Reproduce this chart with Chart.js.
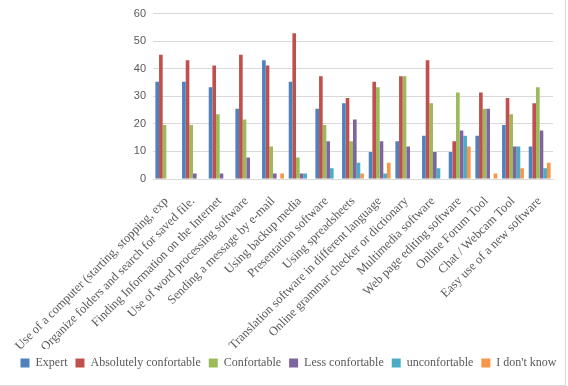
<!DOCTYPE html>
<html>
<head>
<meta charset="utf-8">
<script src="https://cdn.jsdelivr.net/npm/chart.js@4/dist/chart.umd.min.js"></script>
<style>
  body { margin: 0; background: #fff; }
  #box { position: relative; width: 565px; height: 385px; border-right: 1px solid #d9d9d9; border-bottom: 1px solid #d9d9d9; }
</style>
</head>
<body>
<div id="box"><canvas id="skills"></canvas></div>
<script>
// categories (x axis)
const skills = [
  "Use of a computer (starting, stopping, exp",
  "Organize folders and search for saved file.",
  "Finding Information on the Internet",
  "Use of word processing software",
  "Sending a message by e-mail",
  "Using backup media",
  "Presentation software",
  "Using spreadsheets",
  "Translation software in different language",
  "Online grammar checker or dictionary",
  "Multimedia software",
  "Web page editing software",
  "Online Forum Tool",
  "Chat / Webcam Tool",
  "Easy use of a new software"
];

// values in percent
const expert       = [35.3, 35.3, 33.3, 25.5, 43.1, 35.3, 25.5, 27.5, 9.8, 13.7, 15.7, 9.8, 15.7, 19.6, 11.8];
const absolutely   = [45.1, 43.1, 41.2, 45.1, 41.2, 52.9, 37.3, 29.4, 35.3, 37.3, 43.1, 13.7, 31.4, 29.4, 27.5];
const confortable  = [19.6, 19.6, 23.5, 21.6, 11.8, 7.8, 19.6, 13.7, 33.3, 37.3, 27.5, 31.4, 25.5, 23.5, 33.3];
const less         = [0, 2.0, 2.0, 7.8, 2.0, 2.0, 13.7, 21.6, 13.7, 11.8, 9.8, 17.6, 25.5, 11.8, 17.6];
const unconf       = [0, 0, 0, 0, 0, 2.0, 3.9, 5.9, 2.0, 0, 3.9, 15.7, 0, 11.8, 3.9];
const dontKnow     = [0, 0, 0, 0, 2.0, 0, 0, 2.0, 5.9, 0, 0, 11.8, 2.0, 3.9, 5.9];

const yTicks = [0, 10, 20, 30, 40, 50, 60];

function series(label, values, color) {
  return {
    label: label,
    data: values,
    backgroundColor: color,
    borderWidth: 0,
    barPercentage: 1,
    categoryPercentage: 0.82
  };
}

const data = {
  labels: skills,
  datasets: [
    series("Expert", expert, "#4f81bd"),
    series("Absolutely confortable", absolutely, "#c0504d"),
    series("Confortable", confortable, "#9bbb59"),
    series("Less confortable", less, "#8064a2"),
    series("unconfortable", unconf, "#4bacc6"),
    series("I don't know", dontKnow, "#f79646")
  ]
};

const serif = "'Liberation Serif'";

// nudge the legend a little to the right, like the original
const legendShift = {
  id: "legendShift",
  afterLayout(chart) {
    chart.legend.left += 12;
    chart.legend.right += 12;
  }
};

const config = {
  type: "bar",
  data,
  plugins: [legendShift],
  options: {
    responsive: false,
    animation: false,
    layout: { padding: { top: 6, right: 12, bottom: 6, left: 0 } },
    plugins: {
      tooltip: { enabled: false },
      legend: {
        position: "bottom",
        labels: {
          boxWidth: 9,
          boxHeight: 9,
          padding: 8,
          color: "#595959",
          font: { family: serif, size: 12 }
        }
      }
    },
    scales: {
      x: {
        grid: { display: false },
        border: { color: "#d9d9d9" },
        afterFit: (axis) => { axis.height = 170; },
        ticks: {
          autoSkip: false,
          minRotation: 45,
          maxRotation: 45,
          padding: 7,
          color: "#595959",
          font: { family: serif, size: 12.5 }
        }
      },
      y: {
        min: 0,
        max: 60,
        afterFit: (axis) => { axis.width = 153; },
        afterBuildTicks: (axis) => { axis.ticks = yTicks.map(v => ({ value: v })); },
        grid: { color: "#d9d9d9", drawTicks: false },
        border: { display: false },
        ticks: {
          padding: 7,
          color: "#595959",
          font: { family: "'Liberation Sans'", size: 11 }
        }
      }
    }
  }
};

const canvas = document.getElementById("skills");
canvas.width = 565;
canvas.height = 385;
let myChart;
Promise.all([
  document.fonts.load("13px 'Liberation Serif'"),
  document.fonts.load("11px 'Liberation Sans'")
]).then(() => {
  myChart = new Chart(canvas, config);
});
</script>
</body>
</html>
